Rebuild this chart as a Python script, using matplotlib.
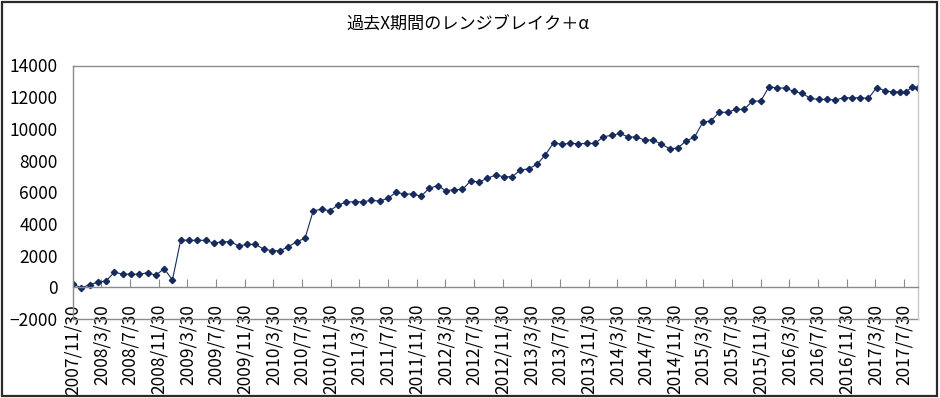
import matplotlib
matplotlib.use("Agg")
import matplotlib.pyplot as plt
from matplotlib.patches import Rectangle
import pandas as pd

plt.rcParams['font.family'] = ['Noto Sans CJK JP', 'DejaVu Sans']

title = "過去X期間のレンジブレイク＋α"

# equity curve, one value per period
values = [
    210, -40, 170, 315, 400, 965, 820, 840, 820, 925,
    760, 1180, 460, 2985, 2965, 2965, 2965, 2790, 2880, 2880,
    2610, 2710, 2710, 2420, 2310, 2310, 2565, 2880, 3090, 4840,
    4920, 4840, 5195, 5385, 5400, 5400, 5490, 5445, 5615, 5995,
    5890, 5890, 5745, 6250, 6415, 6100, 6160, 6180, 6710, 6645,
    6880, 7085, 6980, 6980, 7400, 7485, 7760, 8350, 9125, 9020,
    9100, 9060, 9080, 9080, 9505, 9590, 9715, 9490, 9485, 9295,
    9295, 9040, 8750, 8790, 9250, 9465, 10410, 10515, 11045, 11045,
    11230, 11230, 11755, 11755, 12650, 12590, 12570, 12370, 12240, 11925,
    11860, 11860, 11820, 11965, 11965, 11965, 11925, 12610, 12405, 12325,
    12340, 12320, 12655, 12610,
]

# period end dates: regular ~5 week steps, then the last few shorter ones
dates = list(pd.date_range("2007-11-30", "2017-06-14", periods=100))
dates += [pd.Timestamp(d) for d in ["2017-07-12", "2017-08-05", "2017-09-03", "2017-09-27"]]

# axis labels every 4 months
tick_dates = [pd.Timestamp(2007, 11, 30) + pd.DateOffset(months=4 * k) for k in range(30)]
tick_labels = [f"{d.year}/{d.month}/{d.day}" for d in tick_dates]

fig = plt.figure(figsize=(9.4, 3.98), dpi=100)
ax = fig.add_axes([73 / 940, 79 / 398, 845 / 940, 253.5 / 398])

grey = "#8a8a8a"
ax.plot(dates, values, color="#172a5e", lw=0.8, marker="D", ms=3.2)
# bottom border of the plot area
ax.axhline(-2000, color=grey, lw=1, clip_on=False)

ax.set_ylim(-2000, 14000)
ax.set_yticks(range(-2000, 14001, 2000))
ax.set_xlim(dates[0], dates[-1])
ax.set_xticks(tick_dates, labels=tick_labels)

ax.spines["bottom"].set_position(("data", 0))
for s in ax.spines.values():
    s.set_color(grey)
    s.set_linewidth(1)
ax.spines["right"].set_color("#c8c8c8")

ax.tick_params(axis="x", direction="in", length=6, color=grey, pad=12,
               labelsize=12.5, labelrotation=90)
ax.tick_params(axis="y", length=0, pad=11, labelsize=12.5)
for lab in ax.get_xticklabels():
    lab.set_va("top")
    lab.set_ha("center")

fig.text(0.498, 0.937, title, ha="center", va="center", fontsize=12.3)

# chart frame
fig.patches.append(Rectangle((1.5 / 940, 2 / 398), 935 / 940, 394.5 / 398,
                             transform=fig.transFigure, fill=False,
                             edgecolor="#2a2a2a", lw=1.6))

fig.savefig("out.png", dpi=100)
